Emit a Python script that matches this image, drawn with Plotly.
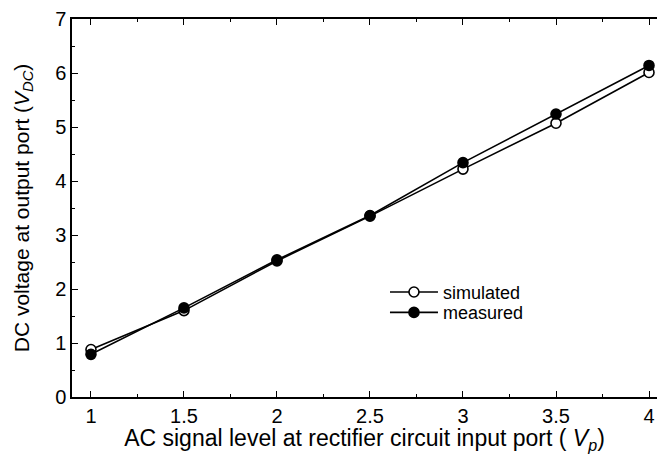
import plotly.graph_objects as go

x_vals = [1, 1.5, 2, 2.5, 3, 3.5, 4]
simulated = [0.88, 1.60, 2.52, 3.35, 4.22, 5.07, 6.01]
measured = [0.79, 1.65, 2.54, 3.36, 4.34, 5.24, 6.14]

fig = go.Figure()
fig.add_trace(go.Scatter(x=x_vals, y=simulated, mode="lines+markers", name="simulated",
                         legend="legend",
                         line=dict(color="black", width=1.6),
                         marker=dict(symbol="circle", size=10, color="white",
                                     line=dict(color="black", width=1.6))))
fig.add_trace(go.Scatter(x=x_vals, y=measured, mode="lines+markers", name="measured",
                         legend="legend2",
                         line=dict(color="black", width=1.6),
                         marker=dict(symbol="circle", size=10, color="black",
                                     line=dict(color="black", width=1.6))))

font = dict(family="Liberation Sans, Arial, sans-serif", size=20, color="black")
leg_common = dict(xanchor="left", yanchor="middle", bgcolor="rgba(0,0,0,0)",
                  font=dict(size=18), itemwidth=48, borderwidth=0)

fig.update_layout(
    width=657, height=454,
    margin=dict(l=72, r=0, t=19, b=57),
    paper_bgcolor="white", plot_bgcolor="white",
    font=font,
    showlegend=True,
    legend=dict(x=0.535, y=0.277, **leg_common),
    legend2=dict(x=0.535, y=0.223, **leg_common),
    xaxis=dict(range=[0.898, 4.043], tickvals=[1, 1.5, 2, 2.5, 3, 3.5, 4],
               ticktext=["1", "1.5", "2", "2.5", "3", "3.5", "4"],
               ticks="inside", ticklen=6, tickwidth=1.2, tickcolor="black",
               minor=dict(tickvals=[1.25, 1.75, 2.25, 2.75, 3.25, 3.75],
                          ticks="inside", ticklen=3, tickcolor="black", tickwidth=1.2),
               showline=True, linecolor="black", linewidth=1.5, mirror="ticks",
               showgrid=False, zeroline=False, tickfont=dict(size=20),
               title=dict(text="AC signal level at rectifier circuit input port ( <i>V<sub>p</sub></i>)",
                          font=dict(size=23), standoff=4)),
    yaxis=dict(range=[0, 7], tickvals=[0, 1, 2, 3, 4, 5, 6, 7],
               ticks="inside", ticklen=6, tickwidth=1.2, tickcolor="black",
               minor=dict(tickvals=[0.5, 1.5, 2.5, 3.5, 4.5, 5.5, 6.5],
                          ticks="inside", ticklen=3, tickcolor="black", tickwidth=1.2),
               showline=True, linecolor="black", linewidth=1.5,
               showgrid=False, zeroline=False, tickfont=dict(size=20),
               title=dict(text="DC voltage at output port (<i>V<sub>DC</sub></i>)",
                          font=dict(size=21), standoff=20)),
)

fig.write_html("out.html")
